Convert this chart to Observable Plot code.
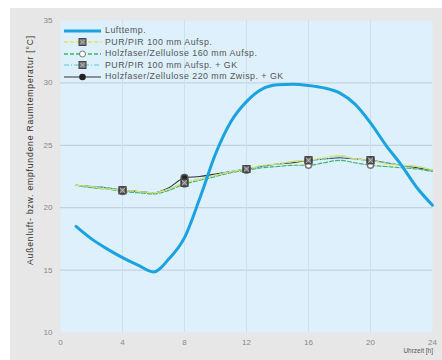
<!DOCTYPE html>
<html><head><meta charset="utf-8">
<script src="https://cdn.jsdelivr.net/npm/d3@7"></script>
<script src="https://cdn.jsdelivr.net/npm/@observablehq/plot@0.6"></script>
<style>
body{margin:0;background:#fff;font-family:Arial,"Liberation Sans",sans-serif;}
#wrap{position:relative;width:442px;height:360px;overflow:hidden;}
#panel{position:absolute;left:10px;top:8px;width:432px;height:352px;background:#e7e7e7;}
#chart{position:absolute;left:0;top:0;}
#legend{position:absolute;left:63px;top:25px;font-size:8.8px;color:#555;line-height:11.5px;letter-spacing:0.5px;}
#legend .row{display:flex;align-items:center;height:11.5px;white-space:nowrap;}
#legend svg{margin-right:3px;}
#ylab{position:absolute;left:30px;top:150px;transform:translate(-50%,-50%) rotate(-90deg);font-size:8.6px;color:#333;white-space:nowrap;letter-spacing:0.8px;}
#xlab{position:absolute;right:9px;top:347px;font-size:6.5px;color:#555;white-space:nowrap;}
</style>
</head><body>
<div id="wrap"><div id="panel"></div><div id="chart"></div><div id="legend"></div>
<div id="ylab">Außenluft- bzw. empfundene Raumtemperatur [°C]</div>
<div id="xlab">Uhrzeit [h]</div></div>
<script>
const hours = [1,2,3,4,5,6,7,8,9,10,11,12,13,14,15,16,17,18,19,20,21,22,23,24];
const xTicks = [0,4,8,12,16,20,24];
const yTicks = [10,15,20,25,30,35];
const markerHours = [4,8,12,16,20];
const seriesNames = [
  "Lufttemp.",
  "PUR/PIR 100 mm Aufsp.",
  "Holzfaser/Zellulose 160 mm Aufsp.",
  "PUR/PIR 100 mm Aufsp. + GK",
  "Holzfaser/Zellulose 220 mm Zwisp. + GK"
];
const luft   = [18.5,17.5,16.7,16.0,15.4,14.85,15.9,17.6,20.8,24.3,26.9,28.5,29.5,29.85,29.9,29.8,29.6,29.2,28.3,26.8,25.0,23.4,21.6,20.2];
const pur    = [21.8,21.7,21.5,21.4,21.3,21.2,21.5,22.0,22.3,22.6,22.9,23.1,23.4,23.5,23.7,23.8,24.0,24.2,23.9,23.8,23.5,23.4,23.3,23.0];
const holz160= [21.8,21.6,21.5,21.3,21.2,21.1,21.4,21.9,22.2,22.5,22.8,23.0,23.2,23.3,23.4,23.4,23.6,23.8,23.6,23.4,23.3,23.2,23.1,22.9];
const purGK  = [21.8,21.7,21.6,21.4,21.3,21.2,21.5,22.0,22.3,22.6,22.9,23.1,23.3,23.5,23.7,23.8,23.9,24.1,23.9,23.8,23.6,23.4,23.3,23.0];
const holz220= [21.8,21.7,21.6,21.4,21.3,21.2,21.6,22.4,22.5,22.7,22.9,23.1,23.3,23.5,23.6,23.8,23.9,24.0,23.9,23.8,23.6,23.4,23.2,23.0];

const toRows = (vals) => hours.map((h,i)=>({h, t: vals[i]}));
const marks = (vals) => toRows(vals).filter(d => markerHours.includes(d.h));

const chart = Plot.plot({
  width: 442, height: 360,
  marginLeft: 60, marginRight: 10, marginTop: 20, marginBottom: 28,
  style: {background: "transparent", fontFamily: "Arial, 'Liberation Sans', sans-serif", fontSize: "8px", color: "#888"},
  x: {domain: [0,24]},
  y: {domain: [10,35]},
  marks: [
    Plot.frame({fill: "#ddf0fb", stroke: "none"}),
    Plot.gridY([15,20,25,30], {stroke: "#bfcdd6", strokeOpacity: 1}),
    Plot.gridX([4,8,12,16,20], {stroke: "#cfe0ea", strokeOpacity: 1}),
    Plot.axisX({ticks: xTicks, tickSize: 0, tickPadding: 7, label: null}),
    Plot.axisY({ticks: yTicks, tickSize: 0, tickPadding: 8, label: null}),
    Plot.line(toRows(holz220), {x: "h", y: "t", stroke: "#333", strokeWidth: 1.1, curve: "monotone-x"}),
    Plot.line(toRows(holz160), {x: "h", y: "t", stroke: "#3fb56e", strokeWidth: 1.2, strokeDasharray: "4,2", curve: "monotone-x"}),
    Plot.line(toRows(purGK), {x: "h", y: "t", stroke: "#7fd8ea", strokeWidth: 1.2, strokeDasharray: "5,2,1,2", curve: "monotone-x"}),
    Plot.line(toRows(pur), {x: "h", y: "t", stroke: "#e3e35a", strokeWidth: 1.2, strokeDasharray: "4,2", curve: "monotone-x"}),
    Plot.line(toRows(luft), {x: "h", y: "t", stroke: "#1aa3e0", strokeWidth: 3, curve: "monotone-x"}),
    Plot.dot(marks(holz220), {x: "h", y: "t", r: 3.3, fill: "#222", stroke: "#555"}),
    Plot.dot(marks(holz160), {x: "h", y: "t", r: 3, fill: "#fff", stroke: "#777"}),
    Plot.dot(marks(purGK), {x: "h", y: "t", symbol: "square", r: 3.6, fill: "#666", stroke: "#444"}),
    Plot.dot(marks(pur), {x: "h", y: "t", symbol: "square", r: 3.6, fill: "#777", stroke: "#444"}),
    Plot.dot(marks(pur), {x: "h", y: "t", symbol: "times", r: 2.6, stroke: "#ccc", strokeWidth: 0.8})
  ]
});
document.getElementById("chart").append(chart);

// legend
const legendSpecs = [
  {stroke: "#1aa3e0", width: 3.2, dash: null, marker: null},
  {stroke: "#e3e35a", width: 1.4, dash: "4,2", marker: "x"},
  {stroke: "#3fb56e", width: 1.4, dash: "4,2", marker: "open"},
  {stroke: "#7fd8ea", width: 1.4, dash: "5,2,1,2", marker: "x"},
  {stroke: "#333", width: 1.2, dash: null, marker: "filled"}
];
const leg = d3.select("#legend");
seriesNames.forEach((name, i) => {
  const s = legendSpecs[i];
  const row = leg.append("div").attr("class","row");
  const svg = row.append("svg").attr("width", 39).attr("height", 10);
  svg.append("line").attr("x1",1).attr("x2",38).attr("y1",5).attr("y2",5)
    .attr("stroke", s.stroke).attr("stroke-width", s.width).attr("stroke-dasharray", s.dash);
  if (s.marker === "x") {
    svg.append("rect").attr("x",16).attr("y",1.5).attr("width",7).attr("height",7).attr("fill","#777").attr("stroke","#444");
    svg.append("path").attr("d","M17.5,3L21.5,7M21.5,3L17.5,7").attr("stroke","#ccc").attr("stroke-width",0.8);
  } else if (s.marker === "open") {
    svg.append("circle").attr("cx",19.5).attr("cy",5).attr("r",3).attr("fill","#fff").attr("stroke","#777");
  } else if (s.marker === "filled") {
    svg.append("circle").attr("cx",19.5).attr("cy",5).attr("r",3.3).attr("fill","#222");
  }
  row.append("span").text(name);
});
</script>
</body></html>
